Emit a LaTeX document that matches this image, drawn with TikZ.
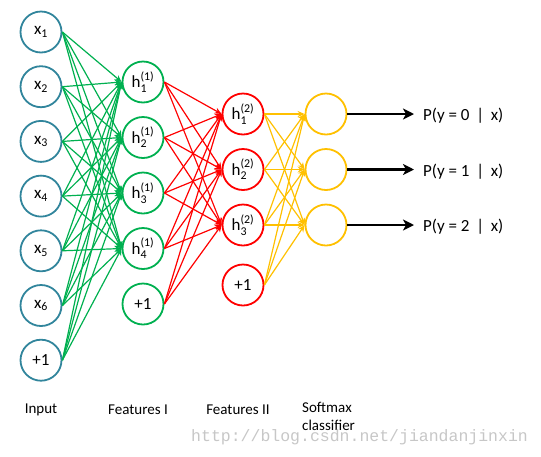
\documentclass[tikz,border=0pt]{standalone}
\usepackage{amsmath}
\usepackage{fontspec}
\setmainfont{Carlito}
\newfontfamily\wmfont{Liberation Mono}
\usetikzlibrary{positioning,arrows.meta}

\definecolor{inblue}{RGB}{49,133,156}
\definecolor{fgreen}{RGB}{0,176,80}
\definecolor{fred}{RGB}{255,0,0}
\definecolor{fyellow}{RGB}{255,192,0}

\tikzset{
  unit/.style={circle, draw, line width=1.8pt, minimum size=41pt, inner sep=0pt,
    font=\fontsize{17}{20}\selectfont},
  inunit/.style={unit, draw=inblue},
  fiunit/.style={unit, draw=fgreen},
  fiiunit/.style={unit, draw=fred},
  smunit/.style={unit, draw=fyellow},
  wire/.style={line width=1.2pt, -{Stealth[length=7pt,width=6pt]}},
  prob/.style={font=\fontsize{17}{20}\selectfont, inner sep=0pt, anchor=west},
  layer/.style={font=\fontsize{15}{18}\selectfont, inner sep=0pt},
  wmark/.style={font=\wmfont\fontsize{16.5}{18}\selectfont, text=black!22, inner sep=0pt, anchor=west}
}

\begin{document}
\begin{tikzpicture}[x=1pt, y=-1pt, on grid]
  \useasboundingbox (0,0) rectangle (541,456);

  \begin{scope}[node distance=54.7pt]
  \node[inunit]               (x1) at (41,32) {$\text{x}_{\text{1}}$};
  \node[inunit, below=of x1]  (x2) {$\text{x}_{\text{2}}$};
  \node[inunit, below=of x2]  (x3) {$\text{x}_{\text{3}}$};
  \node[inunit, below=of x3]  (x4) {$\text{x}_{\text{4}}$};
  \node[inunit, below=of x4]  (x5) {$\text{x}_{\text{5}}$};
  \node[inunit, below=of x5]  (x6) {$\text{x}_{\text{6}}$};
  \node[inunit, below=of x6]  (b0) {+1};
  \end{scope}

  \begin{scope}[node distance=55.5pt]
  \node[fiunit]               (h11) at (143,82) {$\text{h}^{\text{(1)}}_{\text{1}}$};
  \node[fiunit, below=of h11] (h12) {$\text{h}^{\text{(1)}}_{\text{2}}$};
  \node[fiunit, below=of h12] (h13) {$\text{h}^{\text{(1)}}_{\text{3}}$};
  \node[fiunit, below=of h13] (h14) {$\text{h}^{\text{(1)}}_{\text{4}}$};
  \node[fiunit, below=of h14] (b1) {+1};

  \node[fiiunit]               (h21) at (243,114) {$\text{h}^{\text{(2)}}_{\text{1}}$};
  \node[fiiunit, below=of h21] (h22) {$\text{h}^{\text{(2)}}_{\text{2}}$};
  \node[fiiunit, below=of h22] (h23) {$\text{h}^{\text{(2)}}_{\text{3}}$};
  \node[fiiunit, below=60pt of h23] (b2) {+1};

  \node[smunit]               (s1) at (326,114) {};
  \node[smunit, below=of s1]  (s2) {};
  \node[smunit, below=of s2]  (s3) {};
  \end{scope}

  \node[prob] (p1) at (423,116) {P(y = 0 \,|\, x)};
  \node[prob] (p2) at (423,171.5) {P(y = 1 \,|\, x)};
  \node[prob] (p3) at (423,227) {P(y = 2 \,|\, x)};

  \foreach \a in {x1,x2,x3,x4,x5,x6,b0}
    \foreach \b in {h11,h12,h13,h14}
      \draw[wire, fgreen] (\a.east) -- (\b.west);
  \foreach \a in {h11,h12,h13,h14,b1}
    \foreach \b in {h21,h22,h23}
      \draw[wire, fred] (\a.east) -- (\b.west);
  \foreach \a in {h21,h22,h23,b2}
    \foreach \b in {s1,s2,s3}
      \draw[wire, fyellow] (\a.east) -- (\b.west);
  \foreach \s/\p in {s1/p1,s2/p2,s3/p3}
    \draw[line width=2.6pt, -{Stealth[length=11pt,width=11pt,inset=3pt]}, shorten >=9pt]
      (\s.east) -- (\s.east -| \p.west);

  \node[layer] (lin) at (41,410) {Input};
  \node[layer] (lfi) at (138,410) {Features I};
  \node[layer] (lfii) at (238,410) {Features II};
  \node[layer, anchor=north west, align=left] (lsm) at (302,402) {Softmax\\classifier};

  \node[wmark] (wm) at (191,437) {http://blog.csdn.net/jiandanjinxin};
\end{tikzpicture}
\end{document}
